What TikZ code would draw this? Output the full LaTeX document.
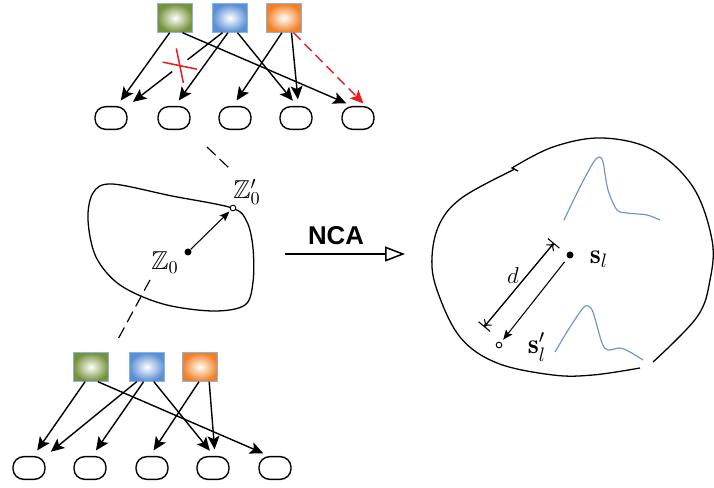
\RequirePackage{fix-cm}
\documentclass[tikz,border=0pt]{standalone}
\usepackage{amsmath,amssymb}
\usepackage{fontspec}
\newfontfamily\ncafont{Liberation Sans}
\usetikzlibrary{arrows.meta,positioning,shapes,calc}
\definecolor{boxgreen}{RGB}{118,146,60}
\definecolor{boxblue}{RGB}{91,143,213}
\definecolor{boxorange}{RGB}{243,128,36}
\definecolor{boxline}{RGB}{141,179,226}
\definecolor{curveblue}{RGB}{110,150,205}
\definecolor{cutred}{RGB}{230,30,30}

\begin{document}
\begin{tikzpicture}[x=0.03cm, y=-0.03cm,
    feat/.style={draw=boxline, line width=0.9pt, minimum width=1.06cm, minimum height=0.85cm, inner sep=0pt},
    unit/.style={draw, line width=1.2pt, rounded corners=0.32cm, minimum width=0.96cm, minimum height=0.68cm, inner sep=0pt},
    link/.style={line width=1.2pt, -{Stealth[length=4mm, width=3.6mm, inset=0.9mm]}, shorten >=2mm},
    cutmark/.style={cross out, draw=cutred, line width=1.3pt, minimum width=0.6cm, minimum height=0.3cm, inner sep=0pt, outer sep=0.14cm, rotate=-45},
    lbl/.style={font=\fontsize{17}{19}\selectfont, inner sep=0pt, scale=1.3},
    dot/.style={circle, fill, inner sep=0pt, minimum size=0.21cm},
    odot/.style={circle, draw, fill=white, line width=0.8pt, inner sep=0pt, minimum size=0.17cm}]
    \useasboundingbox (0,0) rectangle (714,488);
    % top network
    \node[feat, inner color=white, outer color=boxgreen] (gT) at (175,18) {};
    \node[feat, inner color=white, outer color=boxblue] (bT) at (230,18) {};
    \node[feat, inner color=white, outer color=boxorange] (oT) at (284,18) {};
    \foreach \n/\x in {1/111,2/174,3/235,4/296,5/358}
        \node[unit] (t\n) at (\x,118) {};
    \draw[link] (gT.-110) -- (t1.64);
    \draw[link] (gT.-63) -- (t5.115);
    \path (bT.-117) -- (t1.north east) node[pos=0.45, cutmark] (cut) {};
    \draw[line width=1.2pt] (bT.-117) -- (cut);
    \draw[link] (cut) -- (t1.north east);
    \draw[link] (bT.-98) -- (t2.86);
    \draw[link] (bT.-63) -- (t4.85);
    \draw[link] (oT.-98) -- (t3.100);
    \draw[link] (oT.-63) -- (t4.78);
    \draw[link, cutred, dash pattern=on 0.3cm off 0.17cm, shorten >=1mm] (oT.-57) -- (t5.57);
    % bottom network
    \node[feat, inner color=white, outer color=boxgreen] (gB) at (91,367) {};
    \node[feat, inner color=white, outer color=boxblue] (bB) at (147,367) {};
    \node[feat, inner color=white, outer color=boxorange] (oB) at (200,367) {};
    \foreach \n/\x in {1/29,2/90,3/152,4/213,5/275}
        \node[unit] (b\n) at (\x,468) {};
    \draw[link] (gB.-112) -- (b1.70);
    \draw[link] (gB.-65) -- (b5.115);
    \draw[link] (bB.-125) -- (b1.north east);
    \draw[link] (bB.-103) -- (b2.80);
    \draw[link] (bB.-65) -- (b4.85);
    \draw[link] (oB.-94) -- (b3.100);
    \draw[link] (oB.-58) -- (b4.80);
    % latent region
    \draw[line width=1.1pt] plot[smooth cycle, tension=0.55] coordinates {(232,208) (172,196) (112,184) (93,193) (88,220) (96,257) (120,285) (163,304) (213,311) (245,305) (253,282) (253,248) (247,222)};
    \node[dot] (z) at (188,252) {};
    \node[odot] (zp) at (233,208) {};
    \draw[line width=0.9pt, -{Stealth[length=3mm, width=2.4mm, inset=0.6mm]}, shorten >=0.5mm] (z) -- (zp);
    \node[lbl] (zlbl) at (165,263) {$\mathbb{Z}_0$};
    \node[lbl] (zplbl) at (247,192) {$\mathbb{Z}'_0$};
    \coordinate (tdA) at (207,147);
    \coordinate (tdB) at (229,168);
    \draw[line width=1pt, dash pattern=on 0.36cm off 0.16cm] (tdA) -- (tdB);
    \coordinate (bdA) at (150,280);
    \coordinate (bdB) at (117,341);
    \draw[line width=1pt, dash pattern=on 0.36cm off 0.18cm] (bdA) -- (bdB);
    % NCA
    \coordinate (ncaA) at (285,254);
    \coordinate (ncaB) at (405,254);
    \draw[line width=1.3pt, -{Triangle[open, length=0.6cm, width=0.45cm]}] (ncaA) -- (ncaB);
    \node[font=\ncafont\bfseries\fontsize{22}{24}\selectfont] (nca) at (336,236) {NCA};
    % embedding space
    \draw[line width=1.1pt] plot[smooth, tension=0.6] coordinates {(653,362) (697,317) (710,280) (712,240) (693,187) (653,150) (602,138) (553,147) (512,168)} -- (518,171);
    \draw[line width=1.1pt] plot[smooth, tension=0.6] coordinates {(515,169) (463,197) (440,223) (432,257) (437,290) (460,337) (497,363) (553,375) (593,375) (640,368)};
    \draw[curveblue, line width=1pt] plot[smooth, tension=0.5] coordinates {(564,220) (580,187) (593,163) (599,157) (603,162) (608,190) (617,210) (627,213) (647,215) (660,220)};
    \draw[curveblue, line width=1pt] plot[smooth, tension=0.5] coordinates {(555,352) (570,327) (583,308) (588,306) (593,312) (602,343) (608,350) (620,348) (630,352) (643,360)};
    \node[dot] (s) at (570,255) {};
    \node[odot] (sp) at (499,345) {};
    \draw[line width=0.9pt, -{Stealth[length=3mm, width=2.4mm, inset=0.6mm]}, shorten <=1.5mm, shorten >=1mm] (s) -- (sp);
    \coordinate (dA) at (554,243);
    \coordinate (dB) at (484,327);
    \draw[line width=0.9pt, {Bar[width=4.5mm]}-{Bar[width=4.5mm]}] (dA) -- (dB);
    \draw[line width=0.9pt, {To[length=2mm, width=3mm]}-{To[length=2mm, width=3mm]}] (dA) -- (dB);
    \node[font=\fontsize{17}{19}\selectfont, scale=1.15] (dlbl) at (513,276) {$d$};
    \node[font=\fontsize{17}{19}\selectfont, inner sep=0pt, scale=1.4] (slbl) at (599,259) {$\mathbf{s}_l$};
    \node[font=\fontsize{17}{19}\selectfont, inner sep=0pt, scale=1.4] (splbl) at (537,347) {$\mathbf{s}'_l$};
\end{tikzpicture}
\end{document}
